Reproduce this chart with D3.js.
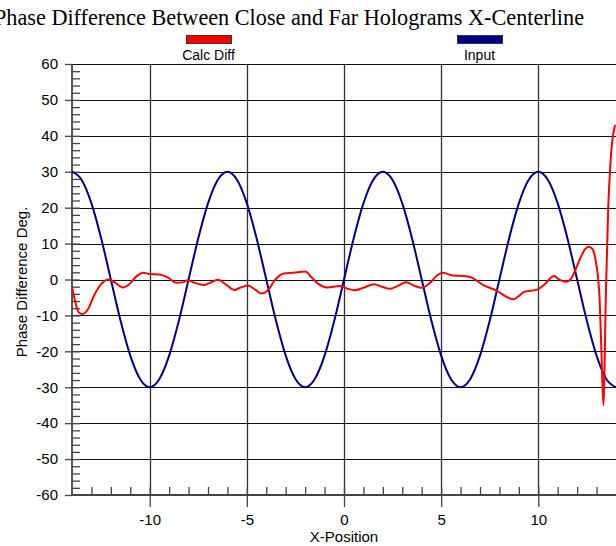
<!DOCTYPE html>
<html>
<head>
<meta charset="utf-8">
<script src="https://cdn.jsdelivr.net/npm/d3@7"></script>
<style>
  body { margin: 0; background: #fff; }
  svg { display: block; }
  .axis text { font-family: "Liberation Sans", Arial, sans-serif; font-size: 15px; fill: #000; }
</style>
</head>
<body>
<div id="chart"></div>
<script>
// Input signal, every 0.5 units from -14 to 14
const inputX = d3.range(-14, 14.01, 0.5);
const inputY = [
    30, 27.7, 21.2, 11.5, 0, -11.5, -21.2, -27.7, -30, -27.7, -21.2, -11.5, 0, 11.5, 21.2, 27.7,
    30, 27.7, 21.2, 11.5, 0, -11.5, -21.2, -27.7, -30, -27.7, -21.2, -11.5, 0, 11.5, 21.2, 27.7,
    30, 27.7, 21.2, 11.5, 0, -11.5, -21.2, -27.7, -30, -27.7, -21.2, -11.5, 0, 11.5, 21.2, 27.7,
    30, 27.7, 21.2, 11.5, 0, -11.5, -21.2, -27.7, -30
];

// Calculated difference
const diffX = [
    -14, -13.85, -13.65, -13.45, -13.2, -12.85, -12.5, -12.1, -11.8, -11.4, -11.05, -10.7, -10.35,
    -10, -9.5, -9.05, -8.65, -8.3, -8.05, -7.7, -7.2, -6.85, -6.5, -6.05, -5.65, -5.3, -4.95,
    -4.55, -4.25, -3.9, -3.55, -3.1, -2.6, -2.0, -1.65, -1.3, -0.9, -0.2, 0.15, 0.55, 1.0, 1.55,
    1.95, 2.35, 2.8, 3.2, 3.65, 4.0, 4.45, 4.8, 5.1, 5.6, 6.15, 6.55, 7.15, 7.85, 8.7, 9.3, 9.9,
    10.35, 10.8, 11.1, 11.45, 11.7, 12.05, 12.4, 12.6, 12.8, 12.95, 13.15, 13.25, 13.35, 13.48,
    13.6, 13.72, 13.95
];
const diffY = [
    -2.0, -5.8, -9.2, -9.6, -8.5, -4.3, -1.3, 0, -0.8, -2.2, -1.3, 0.8, 1.9,
    1.5, 1.4, 0.5, -0.9, -0.8, -0.2, -0.9, -1.5, -0.8, -0.1, -1.5, -2.9, -2.2, -1.7,
    -2.9, -3.9, -2.9, -0.1, 1.7, 1.9, 2.2, 0.5, -1.3, -2.2, -1.8, -2.5, -3.0, -2.3, -1.3,
    -2.0, -2.6, -1.7, -0.8, -1.8, -2.3, -0.8, 1.2, 1.9, 1.1, 1.0, 0.6, -1.5, -3.1, -5.5, -3.4, -2.9,
    -1.25, 1.0, -0.1, -0.6, 0.3, 4.5, 8.4, 9.1, 8.4, 5.4, -4.8, -20, -35, -4,
    20, 33, 43
];

const xMajor = [-10, -5, 0, 5, 10];
const xMinor = d3.range(-13, 14, 1);
const yMajor = d3.range(-60, 61, 10);
const yMinor = d3.range(-58, 60, 2);

const seriesNames = ["Calc Diff", "Input"];
const seriesColors = ["#ff0000", "#000080"];

const width = 616, height = 546;
const plot = {left: 72, right: 616, top: 64, bottom: 495};

const svg = d3.select("#chart")
    .append("svg")
    .attr("width", width)
    .attr("height", height);

const x = d3.scaleLinear().domain([-14, 14]).range([plot.left, plot.right]);
const y = d3.scaleLinear().domain([-60, 60]).range([plot.bottom, plot.top]);

// plain hyphen for negative labels, like the original
const fmt = d => String(d);

// grid
svg.append("g")
    .selectAll("line")
    .data(yMajor)
    .enter()
    .append("line")
    .attr("x1", plot.left).attr("x2", plot.right)
    .attr("y1", d => Math.round(y(d)) + 0.5)
    .attr("y2", d => Math.round(y(d)) + 0.5)
    .attr("stroke", "#111")
    .attr("stroke-width", 1);

svg.append("g")
    .selectAll("line")
    .data(xMajor)
    .enter()
    .append("line")
    .attr("x1", d => Math.round(x(d)) + 0.5)
    .attr("x2", d => Math.round(x(d)) + 0.5)
    .attr("y1", plot.top).attr("y2", plot.bottom)
    .attr("stroke", "#333")
    .attr("stroke-width", 1.3);

// axes
const xAxis = svg.append("g")
    .attr("class", "axis")
    .attr("transform", "translate(0," + plot.bottom + ")")
    .call(d3.axisBottom(x).tickValues(xMajor).tickSize(12).tickPadding(7).tickFormat(fmt));
xAxis.select(".domain").remove();

svg.append("g")
    .attr("class", "axis")
    .attr("transform", "translate(0," + plot.bottom + ")")
    .call(d3.axisTop(x).tickValues(xMinor).tickSize(8).tickFormat(""))
    .select(".domain").remove();

const yAxis = svg.append("g")
    .attr("class", "axis")
    .attr("transform", "translate(" + plot.left + ",0)")
    .call(d3.axisLeft(y).tickValues(yMajor).tickSize(7).tickPadding(7).tickFormat(fmt));
yAxis.select(".domain").remove();

svg.append("g")
    .attr("class", "axis")
    .attr("transform", "translate(" + plot.left + ",0)")
    .call(d3.axisRight(y).tickValues(yMinor).tickSize(8).tickFormat(""))
    .select(".domain").remove();

svg.selectAll(".axis .tick line").attr("stroke", "#444").attr("stroke-width", 1.3);

// axis lines
svg.append("line")
    .attr("x1", plot.left).attr("x2", plot.left)
    .attr("y1", plot.top).attr("y2", plot.bottom)
    .attr("stroke", "#444").attr("stroke-width", 1.8);
svg.append("line")
    .attr("x1", plot.left).attr("x2", plot.right)
    .attr("y1", plot.bottom).attr("y2", plot.bottom)
    .attr("stroke", "#444").attr("stroke-width", 1.8);

// curves
svg.append("defs").append("clipPath").attr("id", "plotclip")
    .append("rect")
    .attr("x", plot.left).attr("y", plot.top)
    .attr("width", plot.right - plot.left).attr("height", plot.bottom - plot.top);

const line = d3.line()
    .x(d => x(d[0]))
    .y(d => y(d[1]))
    .curve(d3.curveMonotoneX);

svg.append("path")
    .datum(inputX.map((v, i) => [v, inputY[i]]))
    .attr("clip-path", "url(#plotclip)")
    .attr("fill", "none")
    .attr("stroke", seriesColors[1])
    .attr("stroke-width", 2)
    .attr("d", line);

svg.append("path")
    .datum(diffX.map((v, i) => [v, diffY[i]]))
    .attr("clip-path", "url(#plotclip)")
    .attr("fill", "none")
    .attr("stroke", seriesColors[0])
    .attr("stroke-width", 2)
    .attr("d", line);

// legend
const legendX = [186, 457];
seriesNames.forEach(function(name, i) {
    svg.append("rect")
        .attr("x", legendX[i] + 0.5).attr("y", 35.5)
        .attr("width", 45).attr("height", 8)
        .attr("fill", seriesColors[i])
        .attr("stroke", "#333");
    svg.append("text")
        .attr("x", legendX[i] + 22.5).attr("y", 60)
        .attr("text-anchor", "middle")
        .style("font-family", "'Liberation Sans', Arial, sans-serif")
        .style("font-size", "14px")
        .text(name);
});

// title (runs off the left edge in the original) and labels
svg.append("text")
    .attr("x", -6).attr("y", 25)
    .attr("textLength", 590)
    .attr("lengthAdjust", "spacingAndGlyphs")
    .style("font-family", "'Liberation Serif', 'Times New Roman', serif")
    .style("font-size", "23px")
    .text("Phase Difference Between Close and Far Holograms X-Centerline");

svg.append("text")
    .attr("x", 344).attr("y", 542)
    .attr("text-anchor", "middle")
    .style("font-family", "'Liberation Sans', Arial, sans-serif")
    .style("font-size", "15px")
    .text("X-Position");

svg.append("text")
    .attr("transform", "translate(27,282) rotate(-90)")
    .attr("text-anchor", "middle")
    .style("font-family", "'Liberation Sans', Arial, sans-serif")
    .style("font-size", "15px")
    .text("Phase Difference Deg.");
</script>
</body>
</html>
